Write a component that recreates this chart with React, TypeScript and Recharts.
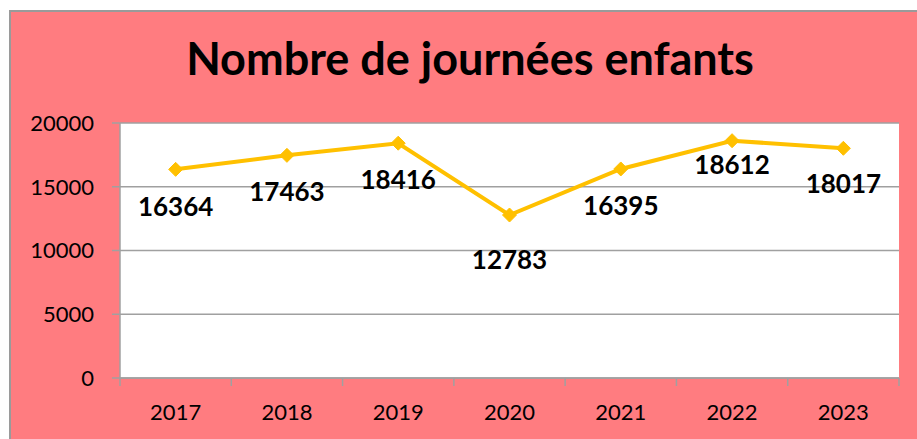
import React from "react";
import { LineChart, Line, XAxis, YAxis, CartesianGrid, LabelList } from "recharts";

const years = ["2017", "2018", "2019", "2020", "2021", "2022", "2023"];
const journees = [16364, 17463, 18416, 12783, 16395, 18612, 18017];
const yTicks = [0, 5000, 10000, 15000, 20000];
const labelDy = [38, 37, 37, 45, 37, 24, 36];

const data = years.map((y, i) => ({ year: y, value: journees[i] }));

const W = 917;
const H = 439;
const PLOT_LEFT = 120;
const PLOT_RIGHT = 899;
const BAND = (PLOT_RIGHT - PLOT_LEFT) / years.length;
const GRID = "#A0A0A0";
const PINK = "#FF7C80";
const GOLD = "#FFC000";
const FONT = "Lato, 'Open Sans', sans-serif";

function XTick(props: any) {
  const { x, y, payload, index } = props;
  return (
    <g>
      <line x1={x - BAND / 2} y1={y} x2={x - BAND / 2} y2={y + 8} stroke={GRID} strokeWidth={1.5} />
      {index === years.length - 1 && (
        <line x1={x + BAND / 2} y1={y} x2={x + BAND / 2} y2={y + 8} stroke={GRID} strokeWidth={1.5} />
      )}
      <text x={x} y={y + 42} textAnchor="middle" fontFamily={FONT} fontSize={22} fill="#000">
        {payload.value}
      </text>
    </g>
  );
}

function Diamond(props: any) {
  const { cx, cy } = props;
  if (cx == null || cy == null) return null;
  const r = 7;
  return (
    <path
      d={`M${cx},${cy - r} L${cx + r},${cy} L${cx},${cy + r} L${cx - r},${cy} Z`}
      fill={GOLD}
      stroke={GOLD}
      strokeWidth={1}
    />
  );
}

function DataLabel(props: any) {
  const { x, y, value, index } = props;
  return (
    <text
      x={x}
      y={y + labelDy[index] + 9}
      textAnchor="middle"
      fontFamily={FONT}
      fontWeight={700}
      fontSize={26}
      fill="#000"
    >
      {value}
    </text>
  );
}

export default function App() {
  return (
    <div style={{ position: "absolute", left: 0, top: 0, width: W, height: H, background: "#fff", overflow: "hidden" }}>
      <div
        style={{
          position: "absolute",
          left: 9,
          top: 10,
          width: W - 9,
          height: H - 10,
          background: PINK,
          borderLeft: "2px solid #9A9A9A",
          borderTop: "2px solid #9A9A9A",
          boxSizing: "border-box",
        }}
      />
      <svg width={W} height={H} style={{ position: "absolute", left: 0, top: 0 }}>
        <text x={470} y={75} textAnchor="middle" fontFamily={FONT} fontWeight={700} fontSize={45} fill="#000">
          Nombre de journées enfants
        </text>
      </svg>
      <div style={{ position: "absolute", left: 0, top: 0 }}>
        <LineChart
          width={W}
          height={H}
          data={data}
          margin={{ top: 123, right: W - PLOT_RIGHT, bottom: 11, left: 0 }}
        >
          <CartesianGrid vertical={false} stroke={GRID} strokeWidth={1.5} fill="#fff" />
          <XAxis
            dataKey="year"
            scale="band"
            height={50}
            tickSize={0}
            tickMargin={0}
            axisLine={{ stroke: GRID, strokeWidth: 1.5 }}
            tickLine={false}
            tick={<XTick />}
            interval={0}
          />
          <YAxis
            width={PLOT_LEFT}
            domain={[0, 20000]}
            ticks={yTicks}
            tickSize={8}
            tickMargin={18}
            axisLine={{ stroke: GRID, strokeWidth: 1.5 }}
            tickLine={{ stroke: GRID, strokeWidth: 1.5 }}
            tick={{ fill: "#000", fontSize: 22, fontFamily: FONT }}
            interval={0}
          />
          <Line
            dataKey="value"
            stroke={GOLD}
            strokeWidth={4}
            dot={<Diamond />}
            activeDot={false}
            isAnimationActive={false}
          >
            <LabelList dataKey="value" content={<DataLabel />} />
          </Line>
        </LineChart>
      </div>
    </div>
  );
}
